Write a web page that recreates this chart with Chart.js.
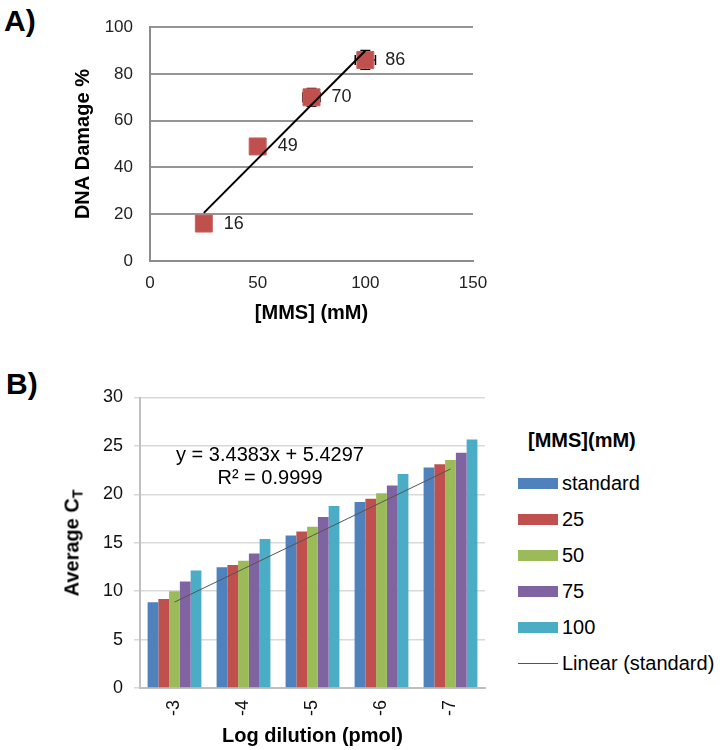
<!DOCTYPE html>
<html>
<head>
<meta charset="utf-8">
<script src="https://cdn.jsdelivr.net/npm/chart.js@4.4.1/dist/chart.umd.min.js"></script>
<style>
  body { margin: 0; background: #fff; width: 723px; height: 750px; position: relative; overflow: hidden;
         font-family: 'Liberation Sans', Arial, sans-serif; color: #000; }
  .abs { position: absolute; }
  .panel { font-weight: bold; font-size: 30px; line-height: 30px; }
  #chartA { left: 0; top: 0; }
  #chartB { left: 0; top: 360px; }
  .eq { left: 170px; width: 200px; text-align: center; font-size: 20px; line-height: 23px; white-space: nowrap; }
  .ytitle { font-weight: bold; font-size: 20px; white-space: nowrap; transform: translate(-50%, -50%) rotate(-90deg); }
  .ytitle sub { font-size: 14px; vertical-align: -4px; }
  .leg-title { left: 528px; top: 428px; font-weight: bold; font-size: 20px; line-height: 24px; }
  .leg-item { left: 518px; height: 24px; display: flex; align-items: center; font-size: 20px; white-space: nowrap; }
  .leg-box { width: 40px; height: 11px; margin-right: 4px; }
</style>
</head>
<body>
<div class="abs panel" style="left:4px;top:6px;">A)</div>
<div class="abs panel" style="left:6px;top:369px;">B)</div>

<canvas id="chartA" class="abs" width="500" height="330"></canvas>
<canvas id="chartB" class="abs" width="500" height="390"></canvas>

<div class="abs ytitle" style="left:73px;top:543px;">Average C<sub>T</sub></div>
<div class="abs eq" style="top:443px;">y = 3.4383x + 5.4297</div>
<div class="abs eq" style="top:466px;">R² = 0.9999</div>
<div class="abs leg-title">[MMS](mM)</div>
<div id="legendB"></div>

<script>
// ---- panel A: DNA damage vs MMS ----
const mmsDose   = [25, 50, 75, 100];
const damagePct = [16, 49, 70, 86];
const damageErrX = [0, 0, 4, 4.7];
const damageErrY = [0, 0, 3.8, 4];
const fitLineX = [25, 100];
const fitLineY = [20.6, 89.9];

// ---- panel B: average Ct per dilution ----
const dilutionLabels = ['-3', '-4', '-5', '-6', '-7'];
const seriesNames = ['standard', '25', '50', '75', '100'];
const ctStandard = [8.86, 12.48, 15.76, 19.2, 22.76];
const ct25  = [9.2, 12.69, 16.17, 19.55, 23.1];
const ct50  = [10.0, 13.14, 16.66, 20.1, 23.55];
const ct75  = [11.0, 13.9, 17.66, 20.9, 24.3];
const ct100 = [12.14, 15.38, 18.79, 22.1, 25.66];
const ctFit = [8.87, 12.31, 15.74, 19.18, 22.62];

const barColors = ['#4F81BD', '#C0504D', '#9BBB59', '#8064A2', '#4BACC6'];
const ctSeries = [ctStandard, ct25, ct50, ct75, ct100];

Chart.defaults.font.family = "'Liberation Sans', Arial, sans-serif";
Chart.defaults.color = '#222';

// error bars, drawn under the markers
const errorBars = {
  id: 'errorBars',
  beforeDatasetsDraw(chart) {
    const { ctx, scales: { x, y } } = chart;
    const cap = 5;
    ctx.save();
    ctx.strokeStyle = '#000';
    ctx.lineWidth = 1.5;
    mmsDose.forEach((d, i) => {
      const px = x.getPixelForValue(d);
      const py = y.getPixelForValue(damagePct[i]);
      ctx.beginPath();
      if (damageErrY[i]) {
        const y1 = y.getPixelForValue(damagePct[i] + damageErrY[i]);
        const y2 = y.getPixelForValue(damagePct[i] - damageErrY[i]);
        ctx.moveTo(px, y1); ctx.lineTo(px, y2);
        ctx.moveTo(px - cap, y1); ctx.lineTo(px + cap, y1);
        ctx.moveTo(px - cap, y2); ctx.lineTo(px + cap, y2);
      }
      if (damageErrX[i]) {
        const x1 = x.getPixelForValue(d - damageErrX[i]);
        const x2 = x.getPixelForValue(d + damageErrX[i]);
        ctx.moveTo(x1, py); ctx.lineTo(x2, py);
        ctx.moveTo(x1, py - cap); ctx.lineTo(x1, py + cap);
        ctx.moveTo(x2, py - cap); ctx.lineTo(x2, py + cap);
      }
      ctx.stroke();
    });
    ctx.restore();
  }
};

// value labels to the right of each marker
const valueLabels = {
  id: 'valueLabels',
  afterDatasetsDraw(chart) {
    const ctx = chart.ctx;
    const meta = chart.getDatasetMeta(1);
    ctx.save();
    ctx.font = "18px 'Liberation Sans', Arial, sans-serif";
    ctx.fillStyle = '#222';
    ctx.textAlign = 'left';
    ctx.textBaseline = 'middle';
    meta.data.forEach((pt, i) => ctx.fillText(String(damagePct[i]), pt.x + 20, pt.y));
    ctx.restore();
  }
};

new Chart(document.getElementById('chartA'), {
  type: 'scatter',
  data: {
    datasets: [
      {
        label: 'fit',
        data: fitLineX.map((x, i) => ({ x: x, y: fitLineY[i] })),
        showLine: true,
        borderColor: '#000',
        borderWidth: 2,
        pointRadius: 0,
        order: 0
      },
      {
        label: 'DNA damage',
        data: mmsDose.map((x, i) => ({ x: x, y: damagePct[i] })),
        pointStyle: 'rect',
        pointRadius: 12,
        backgroundColor: '#C0504D',
        borderColor: '#C8605D',
        borderWidth: 1,
        order: 1
      }
    ]
  },
  options: {
    responsive: false,
    animation: false,
    layout: { padding: { top: 22, right: 27, left: 0, bottom: 0 } },
    plugins: { legend: { display: false }, tooltip: { enabled: false } },
    scales: {
      x: {
        type: 'linear', min: 0, max: 150,
        ticks: { stepSize: 50, padding: 12, color: '#222', font: { size: 17 } },
        grid: { display: false, drawTicks: false },
        border: { color: '#8c8c8c', width: 2 },
        title: { display: true, text: '[MMS] (mM)', color: '#000', font: { size: 20, weight: 'bold' }, padding: { top: 0, bottom: 5 } },
        afterFit: s => { s.height = 69; }
      },
      y: {
        min: 0, max: 100,
        ticks: { stepSize: 20, padding: 17, color: '#222', font: { size: 17 } },
        grid: { color: '#959595', lineWidth: 2, drawTicks: false },
        border: { color: '#8c8c8c', width: 2 },
        title: { display: true, text: 'DNA Damage %', color: '#000', font: { size: 20, weight: 'bold' }, padding: { top: 71, bottom: 0 } },
        afterFit: s => { s.width = 150; }
      }
    }
  },
  plugins: [errorBars, valueLabels]
});

const chartB = new Chart(document.getElementById('chartB'), {
  type: 'bar',
  data: {
    labels: dilutionLabels,
    datasets: [
      {
        type: 'line',
        label: 'Linear (standard)',
        data: ctFit,
        borderColor: '#555',
        borderWidth: 1,
        pointRadius: 0,
        order: 0
      }
    ].concat(seriesNames.map((name, i) => ({
      type: 'bar',
      label: name,
      data: ctSeries[i],
      backgroundColor: barColors[i],
      categoryPercentage: 0.78,
      barPercentage: 1.0,
      order: 1
    })))
  },
  options: {
    responsive: false,
    animation: false,
    layout: { padding: { top: 37.5, right: 15, left: 0, bottom: 0 } },
    plugins: { legend: { display: false }, tooltip: { enabled: false } },
    scales: {
      x: {
        ticks: { minRotation: 90, maxRotation: 90, padding: 12, color: '#111', font: { size: 18 } },
        grid: { display: false, drawTicks: false },
        border: { color: '#c0c0c0', width: 2 },
        title: { display: true, text: 'Log dilution (pmol)', color: '#000', font: { size: 20, weight: 'bold' }, padding: { top: 0, bottom: 2 } },
        afterFit: s => { s.height = 62; }
      },
      y: {
        min: 0, max: 30,
        ticks: { stepSize: 5, padding: 11, color: '#111', font: { size: 18 } },
        grid: { color: '#d9d9d9', lineWidth: 1.5, tickLength: 6 },
        border: { color: '#c0c0c0', width: 2 },
        afterFit: s => { s.width = 140; }
      }
    }
  }
});

// html legend for panel B, built from the chart's datasets
const legendEl = document.getElementById('legendB');
const legendOrder = chartB.data.datasets.slice(1).concat(chartB.data.datasets.slice(0, 1));
legendOrder.forEach((ds, i) => {
  const item = document.createElement('div');
  item.className = 'abs leg-item';
  item.style.top = (471 + i * 36) + 'px';
  const box = document.createElement('span');
  box.className = 'leg-box';
  if (ds.type === 'line') {
    box.style.height = '0';
    box.style.borderTop = '1px solid ' + ds.borderColor;
  } else {
    box.style.background = ds.backgroundColor;
  }
  item.appendChild(box);
  item.appendChild(document.createTextNode(ds.label));
  legendEl.appendChild(item);
});
</script>
</body>
</html>
